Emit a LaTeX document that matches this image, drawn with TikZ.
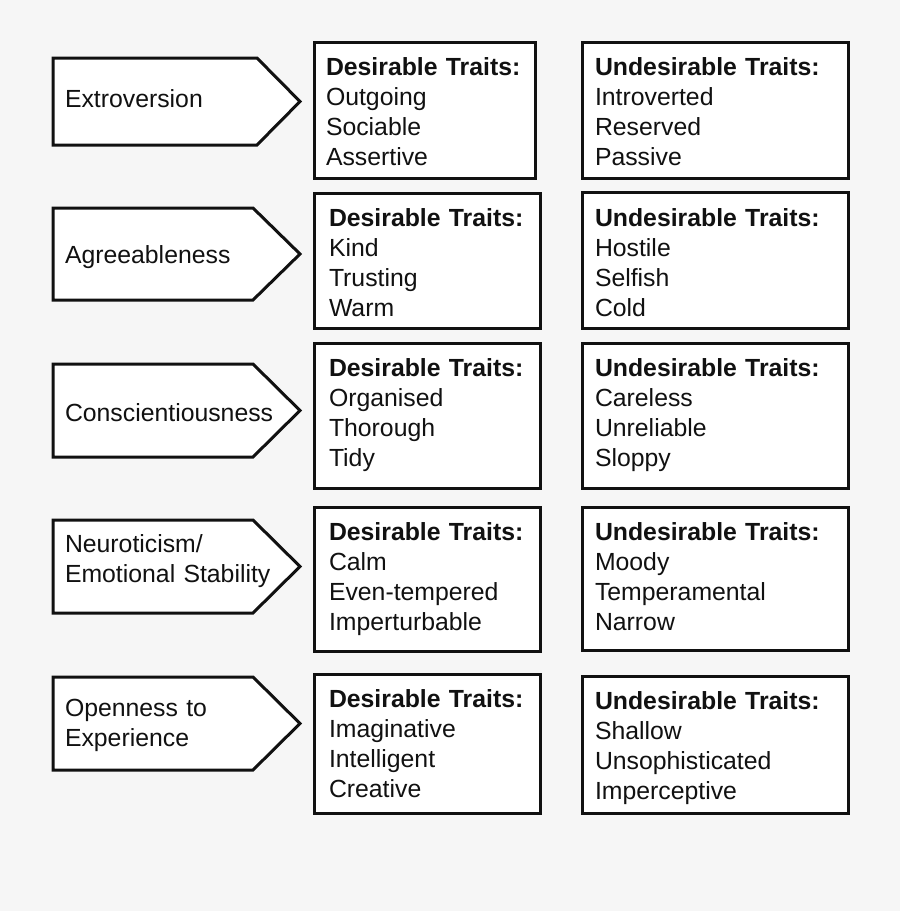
\documentclass[tikz,border=0pt]{standalone}
\usepackage{fontspec}
\setmainfont{Liberation Sans}
\definecolor{bg}{HTML}{F6F6F6}
\definecolor{ink}{HTML}{111111}
\begin{document}
\begin{tikzpicture}[x=1pt,y=-1pt,
  trait/.style={draw=ink, line width=3pt, fill=white, anchor=north west,
    inner sep=0pt, outer sep=0pt},
  pointer/.style={draw=ink, line width=3pt, fill=white, line join=miter},
  txt/.style={anchor=base west, inner sep=0pt, outer sep=0pt, text width=#1,
    align=left, text=ink, font=\fontsize{24.8}{30.3}\selectfont},
  txt/.default=250pt
]
\fill[bg] (0,0) rectangle (900,911);
\useasboundingbox (0,0) rectangle (900,911);

% ---- pointer shapes (traits)
\coordinate (p1a) at (53,58);  \coordinate (p1b) at (257,58);  \coordinate (p1t) at (300,101.5); \coordinate (p1c) at (257,145); \coordinate (p1d) at (53,145);
\coordinate (p2a) at (53,208); \coordinate (p2b) at (253,208); \coordinate (p2t) at (300,254);   \coordinate (p2c) at (253,300); \coordinate (p2d) at (53,300);
\coordinate (p3a) at (53,364); \coordinate (p3b) at (253,364); \coordinate (p3t) at (300,410.5); \coordinate (p3c) at (253,457); \coordinate (p3d) at (53,457);
\coordinate (p4a) at (53,520); \coordinate (p4b) at (253,520); \coordinate (p4t) at (300,566.5); \coordinate (p4c) at (253,613); \coordinate (p4d) at (53,613);
\coordinate (p5a) at (53,677); \coordinate (p5b) at (253,677); \coordinate (p5t) at (300,723.5); \coordinate (p5c) at (253,770); \coordinate (p5d) at (53,770);
\foreach \i in {1,...,5}{
  \draw[pointer] (p\i a) -- (p\i b) -- (p\i t) -- (p\i c) -- (p\i d) -- cycle;
}
\node[txt=230pt] (a1) at (65,107) {Extroversion};
\node[txt=230pt] (a2) at (65,263) {Agreeableness};
\node[txt=230pt] (a3) at (65,421) {Conscientiousness};
\node[txt=230pt] (a4) at (65,552) {Neuroticism/\\Emotional Stability};
\node[txt=230pt] (a5) at (65,716) {Openness to\\Experience};

% ---- desirable boxes
\node[trait, minimum width=221pt, minimum height=136pt] (d1) at (314,42) {};
\node[trait, minimum width=226pt, minimum height=135pt] (d2) at (314,193) {};
\node[trait, minimum width=226pt, minimum height=145pt] (d3) at (314,343) {};
\node[trait, minimum width=226pt, minimum height=144pt] (d4) at (314,507) {};
\node[trait, minimum width=226pt, minimum height=139pt] (d5) at (314,674) {};

% ---- undesirable boxes
\node[trait, minimum width=266pt, minimum height=136pt] (u1) at (582,42) {};
\node[trait, minimum width=266pt, minimum height=136pt] (u2) at (582,192) {};
\node[trait, minimum width=266pt, minimum height=145pt] (u3) at (582,343) {};
\node[trait, minimum width=266pt, minimum height=143pt] (u4) at (582,507) {};
\node[trait, minimum width=266pt, minimum height=137pt] (u5) at (582,676) {};

% ---- desirable texts
\node[txt=205pt] (dt1) at (326,75)  {\textbf{Desirable Traits:}\\Outgoing\\Sociable\\Assertive};
\node[txt=205pt] (dt2) at (329,226) {\textbf{Desirable Traits:}\\Kind\\Trusting\\Warm};
\node[txt=205pt] (dt3) at (329,376) {\textbf{Desirable Traits:}\\Organised\\Thorough\\Tidy};
\node[txt=205pt] (dt4) at (329,540) {\textbf{Desirable Traits:}\\Calm\\Even-tempered\\Imperturbable};
\node[txt=205pt] (dt5) at (329,707) {\textbf{Desirable Traits:}\\Imaginative\\Intelligent\\Creative};

% ---- undesirable texts
\node[txt] (ut1) at (595,75)  {\textbf{Undesirable Traits:}\\Introverted\\Reserved\\Passive};
\node[txt] (ut2) at (595,226) {\textbf{Undesirable Traits:}\\Hostile\\Selfish\\Cold};
\node[txt] (ut3) at (595,376) {\textbf{Undesirable Traits:}\\Careless\\Unreliable\\Sloppy};
\node[txt] (ut4) at (595,540) {\textbf{Undesirable Traits:}\\Moody\\Temperamental\\Narrow};
\node[txt] (ut5) at (595,709) {\textbf{Undesirable Traits:}\\Shallow\\Unsophisticated\\Imperceptive};
\end{tikzpicture}
\end{document}
